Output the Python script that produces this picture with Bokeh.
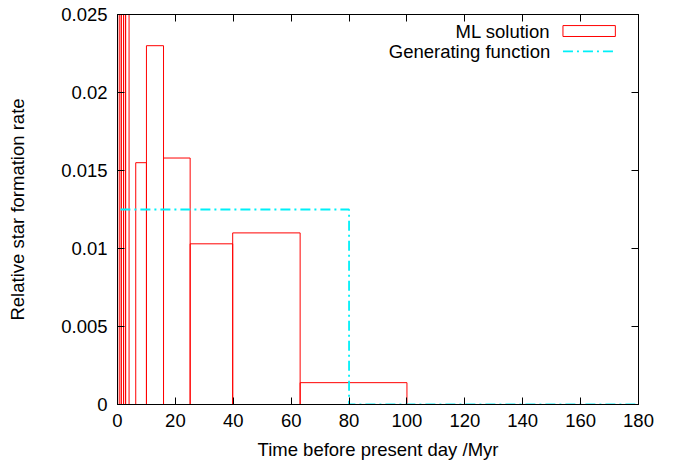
from bokeh.plotting import figure
from bokeh.models import (Range1d, FixedTicker, LinearAxis, CustomJSTickFormatter,
                          Label, BoxAnnotation, Arrow)
from bokeh.embed import file_html
from bokeh.resources import INLINE

# ML solution: histogram bins (Myr) and relative star formation rate
bin_left = [0.6, 1.3, 2.1, 2.8, 6.3, 10.0, 15.9, 25.1, 39.8, 63.1]
bin_right = [1.3, 2.1, 2.8, 4.0, 10.0, 15.9, 25.1, 39.8, 63.1, 100.0]
sfr = [0.05, 0.04, 0.045, 0.035, 0.0155, 0.023, 0.0158, 0.0103, 0.011, 0.0014]

# Generating function (step)
gen_x = [1.0, 80.0, 80.0, 180.0]
gen_y = [0.0125, 0.0125, 0.0, 0.0]

x_ticks = [0, 20, 40, 60, 80, 100, 120, 140, 160, 180]
y_ticks = [0, 0.005, 0.01, 0.015, 0.02, 0.025]

FONT = "Liberation Sans"
FS = "18.5px"
CYAN = "#00f0f8"

p = figure(width=676, height=464, output_backend="svg", toolbar_location=None,
           x_range=Range1d(0, 180), y_range=Range1d(0, 0.025),
           min_border_left=117, min_border_right=38, min_border_top=14,
           min_border_bottom=60, background_fill_color="white",
           border_fill_color="white")
p.grid.visible = False
p.outline_line_color = "black"
p.outline_line_width = 1

fmt = CustomJSTickFormatter(code="return tick.toString();")
blank = CustomJSTickFormatter(code="return '';")

for ax in p.xaxis:
    ax.ticker = FixedTicker(ticks=x_ticks)
for ax in p.yaxis:
    ax.ticker = FixedTicker(ticks=y_ticks)
    ax.formatter = fmt

def style_axis(ax):
    ax.major_tick_in = 7
    ax.major_tick_out = 0
    ax.minor_tick_line_color = None
    ax.major_tick_line_color = "black"
    ax.axis_line_color = "black"
    ax.major_label_text_font = FONT
    ax.major_label_text_font_size = FS
    ax.major_label_text_color = "black"
    ax.axis_label_text_font = FONT
    ax.axis_label_text_font_size = FS
    ax.axis_label_text_font_style = "normal"
    ax.axis_label_text_color = "black"

for ax in p.xaxis:
    style_axis(ax)
    ax.axis_label = "Time before present day /Myr"
    ax.major_label_standoff = 9
    ax.axis_label_standoff = 9
for ax in p.yaxis:
    style_axis(ax)
    ax.axis_label = "Relative star formation rate"
    ax.major_label_standoff = 10
    ax.axis_label_standoff = 30

# mirrored ticks on top and right, no labels
top_ax = LinearAxis(ticker=FixedTicker(ticks=x_ticks), formatter=blank)
style_axis(top_ax)
top_ax.major_label_standoff = 0
right_ax = LinearAxis(ticker=FixedTicker(ticks=y_ticks), formatter=blank)
style_axis(right_ax)
right_ax.major_label_standoff = 0
p.add_layout(top_ax, "above")
p.add_layout(right_ax, "right")

p.quad(left=bin_left, right=bin_right, top=sfr, bottom=0,
       fill_color=None, line_color="#ff0000", line_width=1)

p.line(gen_x, gen_y, line_color=CYAN, line_width=1.8, line_dash="10 4 2 4")

# Legend (gnuplot style: text right-aligned, sample to the right)
LX_TEXT = 149.5
LX0, LX1 = 153.9, 172.0
R1Y, R2Y = 0.02394, 0.02263
p.add_layout(Label(x=LX_TEXT, y=R1Y, text="ML solution", text_align="right",
                   text_baseline="middle", text_font=FONT, text_font_size=FS,
                   text_color="black"))
p.add_layout(Label(x=LX_TEXT, y=R2Y, text="Generating function", text_align="right",
                   text_baseline="middle", text_font=FONT, text_font_size=FS,
                   text_color="black"))
p.add_layout(BoxAnnotation(left=LX0, right=LX1, bottom=0.02359, top=0.02429,
                           fill_color=None, fill_alpha=0, line_color="#ff0000",
                           line_width=1, line_alpha=1))
p.add_layout(Arrow(end=None, x_start=LX0, y_start=R2Y, x_end=171.5, y_end=R2Y,
                   line_color=CYAN, line_width=1.8, line_dash="10 4 2 4"))

open("out.html", "w").write(file_html(p, INLINE))
